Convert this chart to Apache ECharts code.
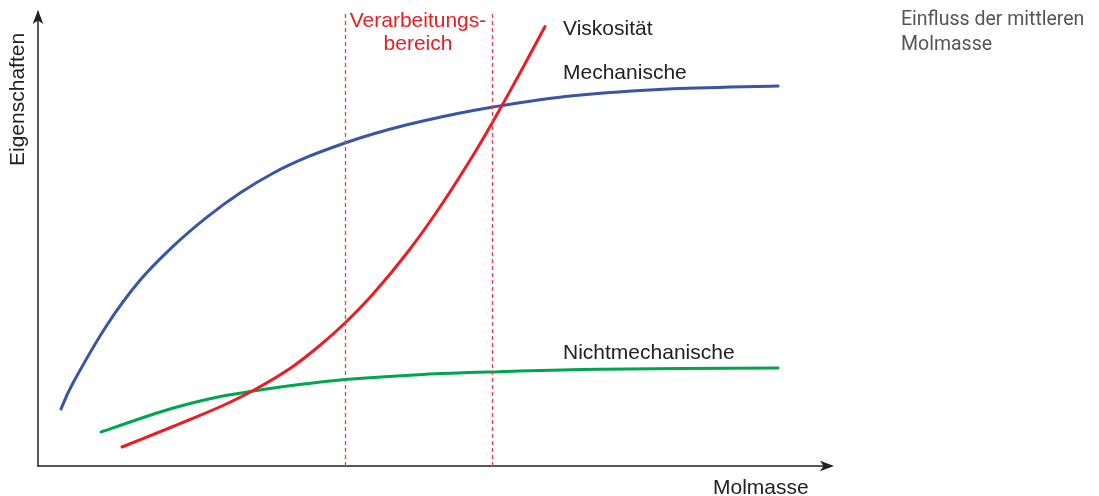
<!DOCTYPE html>
<html><head><meta charset="utf-8">
<script src="https://cdn.jsdelivr.net/npm/echarts@6/dist/echarts.min.js"></script>
<style>html,body{margin:0;padding:0;background:#fff}#c{width:1099px;height:496px}</style>
</head><body><div id="c"></div>
<script>
// Data (x = relative molar mass, y = property level; arbitrary units)
const mechX = [23,35,69,102,135,169,202,235,269,307,335,369,402,455,535,635,740];
const mechY = [57,83,141,185.7,219.7,248.9,273,292.8,308.8,323,332,341.2,348.8,359,370.2,377.2,380];
const viskX = [84,119,152,185,217,252,280,307,335,369,402,435,455,485,507];
const viskY = [19,33,46.5,60.5,76.5,97.5,119,143,172,213,259,310.5,344.5,398.5,439.5];
const nichtX = [63,119,152,185,217,252,307,385,462,562,740];
const nichtY = [34,53,62.5,70,75.3,80.2,86.5,91.6,94.3,96.8,98];
const rangeBounds = [307,454];
const labels = {
  title: 'Einfluss der mittleren\nMolmasse',
  xName: 'Molmasse', yName: 'Eigenschaften',
  range: 'Verarbeitungs-\nbereich',
  visk: 'Viskosität', mech: 'Mechanische', nicht: 'Nichtmechanische'
};
const font = '"Liberation Sans", Arial, sans-serif';

// Smooth curve through the points (Catmull-Rom), positioned through the chart's own axes via api.coord
function curveSeries(name, xs, ys, color) {
  return {
    type: 'custom', name: name, data: [[xs[0], ys[0]]], silent: true, clip: false,
    renderItem: function (params, api) {
      const p = xs.map((x, i) => api.coord([x, ys[i]]));
      let d = 'M' + p[0][0] + ' ' + p[0][1];
      for (let i = 0; i < p.length - 1; i++) {
        const p0 = p[Math.max(0, i - 1)], p1 = p[i], p2 = p[i + 1], p3 = p[Math.min(p.length - 1, i + 2)];
        const c1 = [p1[0] + (p2[0] - p0[0]) / 6, p1[1] + (p2[1] - p0[1]) / 6];
        const c2 = [p2[0] - (p3[0] - p1[0]) / 6, p2[1] - (p3[1] - p1[1]) / 6];
        d += ' C' + c1[0] + ' ' + c1[1] + ' ' + c2[0] + ' ' + c2[1] + ' ' + p2[0] + ' ' + p2[1];
      }
      return { type: 'path', shape: { pathData: d }, style: { stroke: color, lineWidth: 3, fill: null, lineCap: 'round' } };
    }
  };
}

const chart = echarts.init(document.getElementById('c'));
chart.setOption({
  animation: false,
  grid: { left: 38, right: 269, top: 12, bottom: 30 },
  xAxis: { type: 'value', min: 0, max: 792,
    axisLine: { show: true, symbol: ['none', 'arrow'], symbolSize: [8, 14], symbolOffset: [0, 4], lineStyle: { color: '#222', width: 1.5 } },
    axisTick: { show: false }, axisLabel: { show: false }, splitLine: { show: false } },
  yAxis: { type: 'value', min: 0, max: 454,
    axisLine: { show: true, symbol: ['none', 'arrow'], symbolSize: [8, 14], symbolOffset: [0, 2], lineStyle: { color: '#222', width: 1.5 } },
    axisTick: { show: false }, axisLabel: { show: false }, splitLine: { show: false } },
  series: [
    { type: 'line', name: 'range', data: [], markLine: { silent: true, symbol: 'none', label: { show: false },
        lineStyle: { color: '#ef3e4a', type: [4, 3], width: 1.3 },
        data: rangeBounds.map(v => ({ xAxis: v })) } },
    curveSeries(labels.nicht, nichtX, nichtY, '#00a54f'),
    curveSeries(labels.mech, mechX, mechY, '#3a55a3'),
    curveSeries(labels.visk, viskX, viskY, '#ec1c24')
  ],
  graphic: [
    { type: 'text', left: 901, top: 8, style: { text: labels.title, font: '19.5px Roboto', fill: '#555', lineHeight: 25 } },
    { type: 'text', x: 418, y: 10, style: { text: labels.range, font: '21px ' + font, fill: '#ec1c24', align: 'center', lineHeight: 23 } },
    { type: 'text', x: 563, y: 19, style: { text: labels.visk, font: '21px ' + font, fill: '#222' } },
    { type: 'text', x: 563, y: 63, style: { text: labels.mech, font: '21px ' + font, fill: '#222' } },
    { type: 'text', x: 563, y: 343, style: { text: labels.nicht, font: '21px ' + font, fill: '#222' } },
    { type: 'text', x: 713, y: 478, style: { text: labels.xName, font: '21px ' + font, fill: '#222' } },
    { type: 'text', x: 8, y: 166, rotation: Math.PI / 2, style: { text: labels.yName, font: '21px ' + font, fill: '#222' } }
  ]
});
</script></body></html>
